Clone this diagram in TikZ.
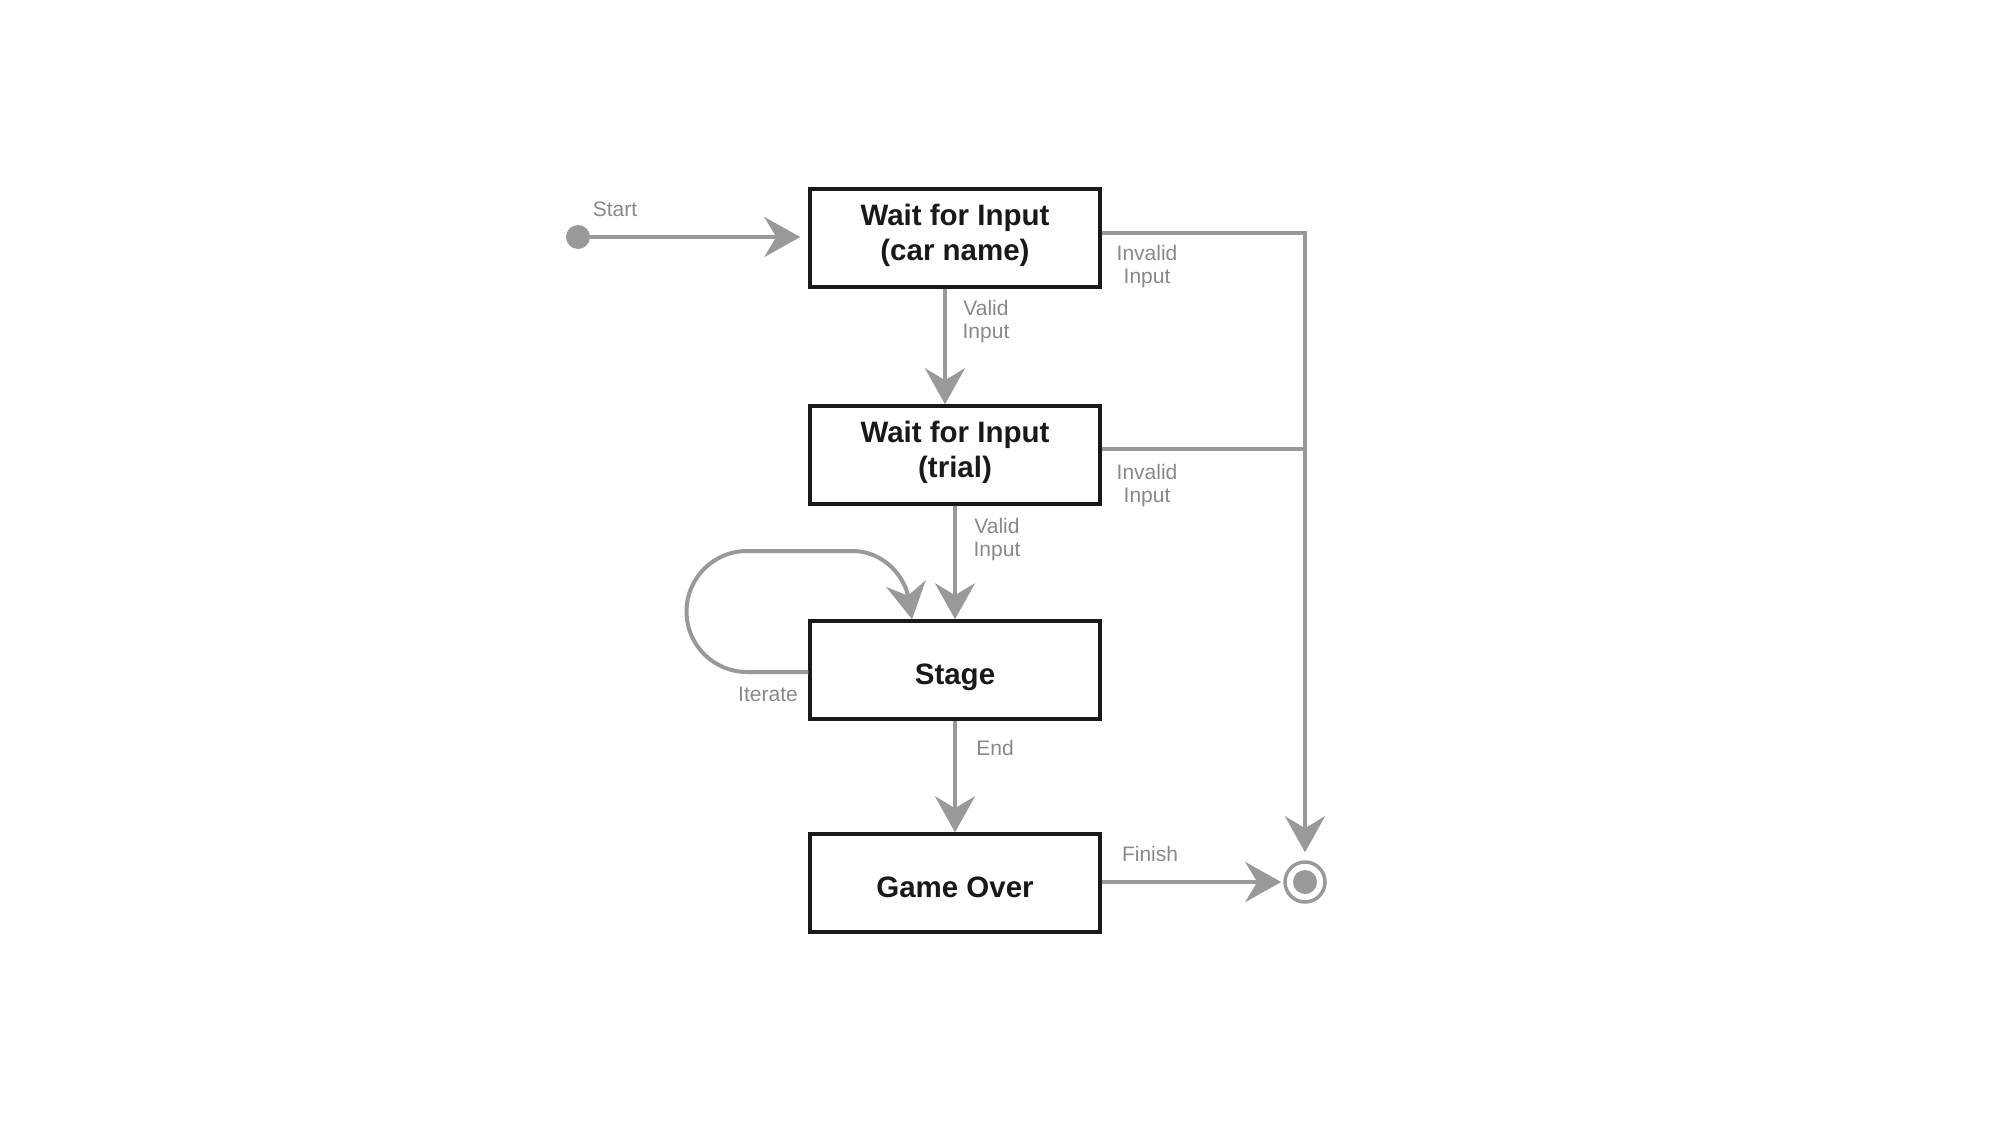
\documentclass[tikz,border=0pt]{standalone}
\usepackage{fontspec}
\setmainfont{Liberation Sans}
\usetikzlibrary{arrows.meta}
\definecolor{lc}{HTML}{999999}
\definecolor{tc}{HTML}{888888}
\tikzset{
  state/.style={draw=black!90, line width=3.5pt, minimum width=290pt, minimum height=98pt, inner sep=0pt, align=center, font=\fontsize{29.5}{34.5}\selectfont\bfseries, text=black!90},
  twoline/.style={text height=68pt, text depth=24pt},
  oneline/.style={text height=60pt, text depth=32pt},
  conn/.style={draw=lc, line width=4pt, -{Stealth[length=36pt,width=40pt,inset=12pt]}},
  plain/.style={draw=lc, line width=4pt},
  lbl/.style={text=tc, font=\fontsize{21}{23}\selectfont, align=center, inner sep=0pt}
}
\begin{document}
\begin{tikzpicture}[x=1pt,y=-1pt]
\useasboundingbox (0,0) rectangle (2001,1121);
\node[state, twoline] (b1) at (955,238) {Wait for Input\\(car name)};
\node[state, twoline] (b2) at (955,455) {Wait for Input\\(trial)};
\node[state, oneline] (b3) at (955,670) {Stage};
\node[state, oneline] (b4) at (955,883) {Game Over};
\node[circle, fill=lc, minimum size=24pt, inner sep=0pt] (st) at (578,237) {};
\node[circle, draw=lc, line width=3.5pt, minimum size=40pt, inner sep=0pt] (en) at (1305,882) {};
\fill[lc] (en.center) circle (12pt);
% start
\draw[conn, shorten >=8pt] (st) -- (b1.west |- st);
% valid 1
\draw[conn] ([xshift=-10pt]b1.south) -- ([xshift=-10pt]b2.north);
% valid 2
\draw[conn] (b2.south) -- (b3.north);
% end
\draw[conn] (b3.south) -- (b4.north);
% invalid lines
\coordinate (r1) at (1305,233);
\coordinate (r2) at (1305,449);
\draw[plain] (b1.east |- r1) -- (r1) -- (r2);
\draw[plain] (b2.east |- r2) -- (r2);
\draw[conn, shorten >=8pt] (r2) -- (en.north);
% finish
\draw[conn, shorten >=2pt] (b4.east |- en) -- (en.west);
% loop
\coordinate (l1) at (747,672);
\coordinate (l2) at (852,551);
\draw[conn] (b3.west |- l1) -- (l1) arc[start angle=270, end angle=90, radius=60.5pt] -- (l2) .. controls (885,551) and (905,578) .. ([xshift=-43pt]b3.north);
% labels
\node[lbl] (tStart) at (615,209) {Start};
\node[lbl] (tV1) at (986,322) {Valid\\Input};
\node[lbl] (tI1) at (1147,267) {Invalid\\Input};
\node[lbl] (tI2) at (1147,486) {Invalid\\Input};
\node[lbl] (tV2) at (997,540) {Valid\\Input};
\node[lbl] (tIt) at (768,694) {Iterate};
\node[lbl] (tEnd) at (995,748) {End};
\node[lbl] (tFin) at (1150,854) {Finish};
\end{tikzpicture}
\end{document}
